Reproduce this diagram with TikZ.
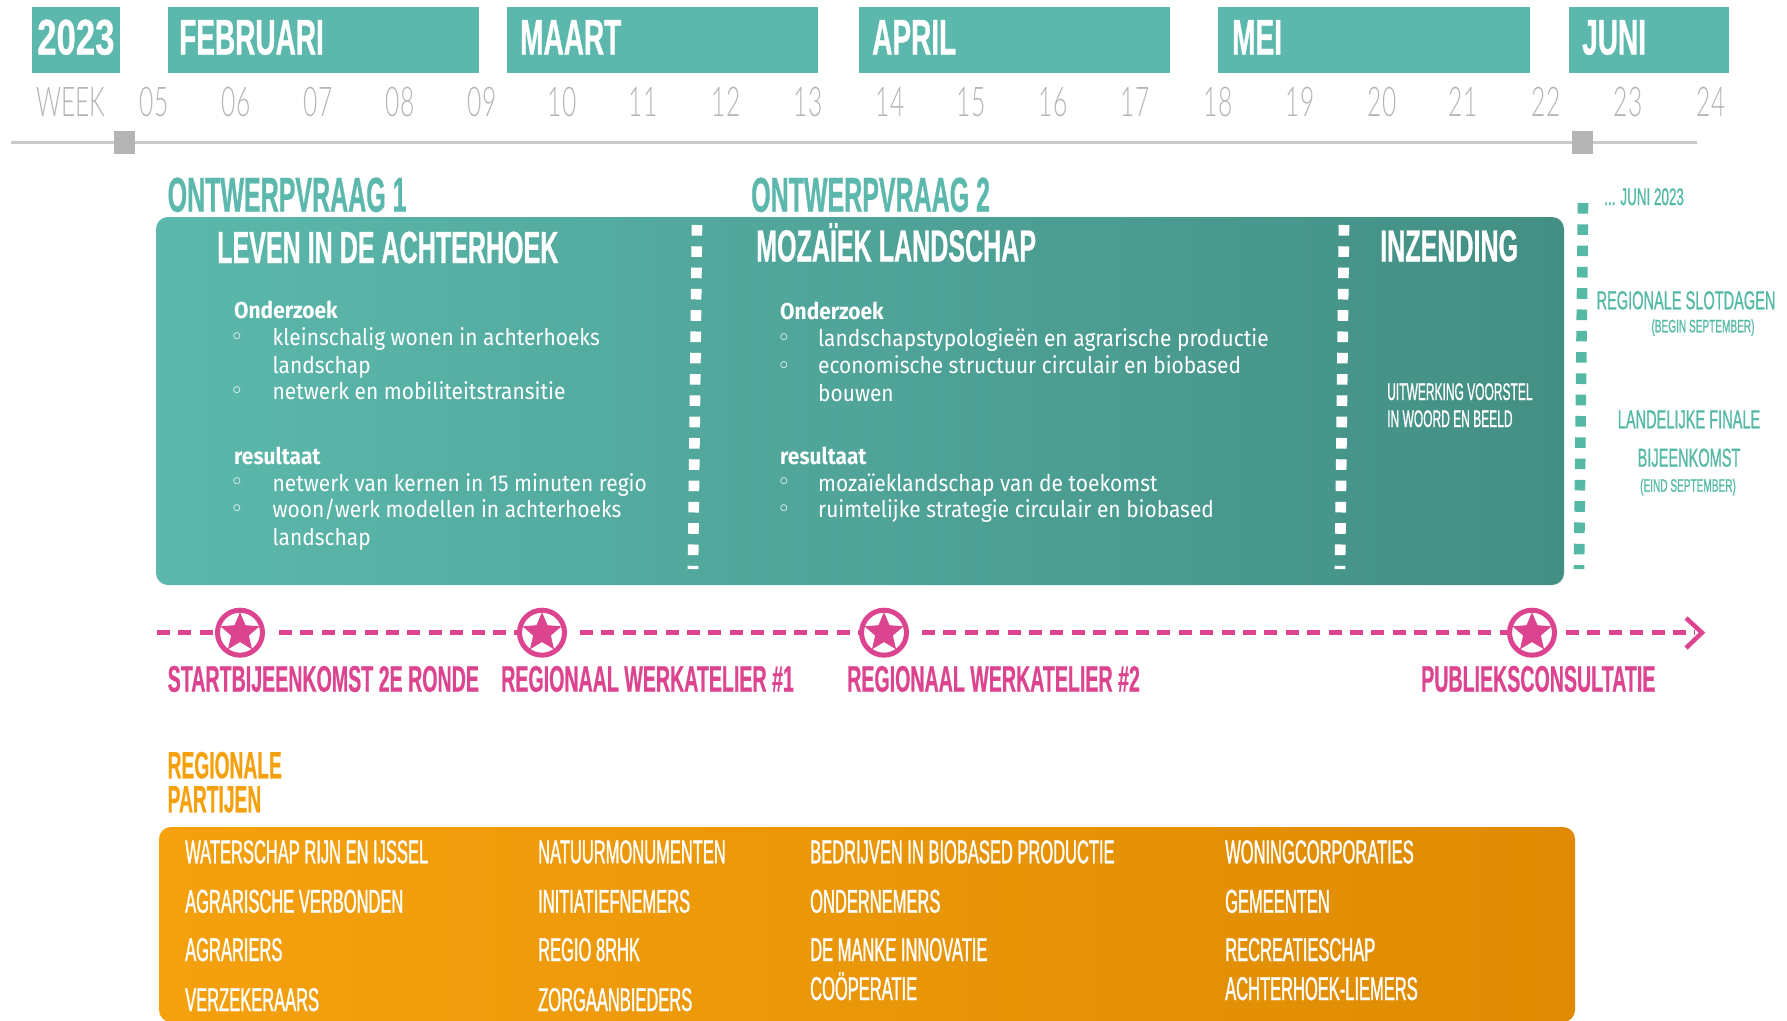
\documentclass[tikz,border=0pt]{standalone}
\usepackage{fontspec}
\usetikzlibrary{shapes.geometric}
\setmainfont[FakeStretch=0.91]{Fira Sans}
\newfontfamily\condfont{Liberation Sans}
\newfontfamily\thinfont[FakeStretch=0.6]{Lato Light}
\newcommand{\narrow}[3]{\condfont\fontsize{#2}{#2}\selectfont\addfontfeature{FakeStretch=#1,FakeBold=#3}}
\newcommand{\narrowbf}[3]{\condfont\bfseries\fontsize{#2}{#2}\selectfont\addfontfeature{FakeStretch=#1,FakeBold=#3}}
\definecolor{tealbar}{HTML}{5CB8AC}
\definecolor{tealdark}{HTML}{438F84}
\definecolor{tealtext}{HTML}{56B9A6}
\definecolor{pinkline}{HTML}{DD4490}
\definecolor{orangeleft}{HTML}{F5A10E}
\definecolor{orangeright}{HTML}{DE8B03}
\definecolor{weekgrey}{HTML}{B4B4B4}
\tikzset{
  txt/.style={inner sep=0pt,anchor=base west},
  month/.style={txt,font=\narrowbf{0.56}{50}{0.6},text=white},
  week/.style={inner sep=0pt,anchor=base,font=\thinfont\fontsize{41}{41}\selectfont,text=weekgrey},
  vraag/.style={txt,font=\narrowbf{0.51}{49}{0.6},text=tealbar},
  heading/.style={txt,font=\narrowbf{0.557}{45}{0.6},text=white},
  body/.style={txt,font=\fontsize{23}{23}\selectfont,text=white},
  bodyhead/.style={body,font=\bfseries\fontsize{23}{23}\selectfont},
  ring/.style={inner sep=0pt,font=\fontsize{17}{17}\selectfont,text=white},
  side/.style={inner sep=0pt,anchor=base,font=\narrow{0.56}{26}{0.8},text=tealtext},
  sidesmall/.style={side,font=\narrow{0.56}{18}{0.8}},
  event/.style={txt,font=\narrowbf{0.53}{37}{0.5},text=pinkline},
  partij/.style={txt,font=\narrow{0.5}{33}{1},text=white},
  note/.style={txt,font=\narrow{0.5}{24}{0.8},text=white},
  regio/.style={txt,font=\narrowbf{0.505}{38}{0.5},text=orangeleft},
  dots/.style={line width=10.6pt,dash pattern=on 10.6pt off 10.7pt},
  meetline/.style={color=pinkline,line width=4.5pt,dash pattern=on 13pt off 8.4pt},
  marker/.style={circle,draw=pinkline,fill=white,line width=5pt,minimum size=45pt,inner sep=0pt},
  starmark/.style={star,star points=5,star point ratio=2.2,fill=pinkline,minimum size=41pt,inner sep=0pt}
}
\begin{document}
\begin{tikzpicture}[x=1pt,y=-1pt]
\useasboundingbox (0,0) rectangle (1787,1020);

% months
\fill[tealbar] (32,7) rectangle (120,73);
\fill[tealbar] (167.5,7) rectangle (479,73);
\fill[tealbar] (507,7) rectangle (818,73);
\fill[tealbar] (859,7) rectangle (1170,73);
\fill[tealbar] (1218,7) rectangle (1530,73);
\fill[tealbar] (1569,7) rectangle (1729,73);
\node[month,font=\narrowbf{0.695}{50}{0.6}] (y23) at (37,54.5) {2023};
\node[month] (feb) at (179,54.5) {FEBRUARI};
\node[month] (mrt) at (520,54.5) {MAART};
\node[month] (apr) at (872,54.5) {APRIL};
\node[month] (mei) at (1232,54.5) {MEI};
\node[month] (jun) at (1582,54.5) {JUNI};

% weeks
\node[week] (wk) at (71,116.3) {WEEK};
\foreach \w/\xp in {05/154,06/236,07/318,08/400,09/482,10/562,11/643,12/726,13/808,14/890,
  15/971,16/1053,17/1135,18/1218,19/1300,20/1382,21/1463,22/1546,23/1628,24/1711}
  \node[week] (w\w) at (\xp,116.3) {\w};

% timeline
\coordinate (tl) at (11,142.5);
\coordinate (tr) at (1697,142.5);
\draw[color=weekgrey!70,line width=3pt] (tl) -- (tr);
\fill[weekgrey] (113.5,131) rectangle (134.5,154);
\fill[weekgrey] (1571.5,131) rectangle (1592.5,154);

% phases
\node[vraag] (ov1) at (167.5,211.7) {ONTWERPVRAAG 1};
\node[vraag] (ov2) at (751,211.7) {ONTWERPVRAAG 2};
\shade[left color=tealbar,right color=tealdark,rounded corners=12pt] (156,217) rectangle (1564,585);

\coordinate (d1a) at (697,225); \coordinate (d1b) at (693,569);
\coordinate (d2a) at (1344,225); \coordinate (d2b) at (1340,569);
\coordinate (d3a) at (1583,203); \coordinate (d3b) at (1579,569);
\draw[dots,white] (d1a) -- (d1b);
\draw[dots,white] (d2a) -- (d2b);
\draw[dots,color=tealtext] (d3a) -- (d3b);

\node[heading] (lev) at (217,263) {LEVEN IN DE ACHTERHOEK};
\node[heading] (moz) at (756,261.5) {MOZAÏEK LANDSCHAP};
\node[heading] (inz) at (1380,261.5) {INZENDING};

% first column
\node[bodyhead] (o1) at (234,318.4) {Onderzoek};
\node[ring] (o1a) at (237,337) {$\circ$};
\node[body] (o1t) at (272.5,345.2) {kleinschalig wonen in achterhoeks};
\node[body] (o1u) at (272.5,373) {landschap};
\node[ring] (o1b) at (237,391) {$\circ$};
\node[body] (o1v) at (272.5,399.2) {netwerk en mobiliteitstransitie};
\node[bodyhead] (r1) at (234,464.2) {resultaat};
\node[ring] (r1a) at (237,482) {$\circ$};
\node[body] (r1t) at (272.5,491) {netwerk van kernen in 15 minuten regio};
\node[ring] (r1b) at (237,509) {$\circ$};
\node[body] (r1u) at (272.5,517.9) {woon/werk modellen in achterhoeks};
\node[body] (r1v) at (272.5,545) {landschap};

% second column
\node[bodyhead] (o2) at (780,319.4) {Onderzoek};
\node[ring] (o2a) at (784,338) {$\circ$};
\node[body] (o2t) at (818,346.2) {landschapstypologieën en agrarische productie};
\node[ring] (o2b) at (784,366) {$\circ$};
\node[body] (o2u) at (818,373.7) {economische structuur circulair en biobased};
\node[body] (o2v) at (818,401.2) {bouwen};
\node[bodyhead] (r2) at (780,464.2) {resultaat};
\node[ring] (r2a) at (784,482) {$\circ$};
\node[body] (r2t) at (818,491) {mozaïeklandschap van de toekomst};
\node[ring] (r2b) at (784,509) {$\circ$};
\node[body] (r2u) at (818,517.7) {ruimtelijke strategie circulair en biobased};

\node[note] (uit) at (1387,400) {UITWERKING VOORSTEL};
\node[note] (woo) at (1387,427) {IN WOORD EN BEELD};

% right of the box
\node[side,anchor=base west,font=\narrow{0.56}{24}{0.8}] (jn) at (1604,205) {... JUNI 2023};
\node[side] (slot) at (1686,309.3) {REGIONALE SLOTDAGEN};
\node[sidesmall] (beg) at (1703,332.3) {(BEGIN SEPTEMBER)};
\node[side] (fin) at (1689,428.3) {LANDELIJKE FINALE};
\node[side] (bij) at (1689,466.7) {BIJEENKOMST};
\node[sidesmall] (ein) at (1688,491.7) {(EIND SEPTEMBER)};

% meetings
\coordinate (pl) at (157,632.7);
\coordinate (ga) at (279,632.7);
\coordinate (gb) at (580,632.7);
\coordinate (gc) at (922,632.7);
\coordinate (gd) at (1566,632.7);
\coordinate (pe) at (1695,632.7);
\coordinate (pa) at (1686,618);
\coordinate (pb) at (1702,632.7);
\coordinate (pc) at (1686,648);
\node[marker] (ma) at (240,632.7) {};
\node[marker] (mb) at (542,632.7) {};
\node[marker] (mc) at (884,632.7) {};
\node[marker] (md) at (1532,632.7) {};
\draw[meetline] (pl) -- (ma);
\draw[meetline] (ga) -- (mb);
\draw[meetline] (gb) -- (mc);
\draw[meetline] (gc) -- (md);
\draw[meetline] (gd) -- (pe);
\draw[color=pinkline,line width=4.5pt] (pa) -- (pb) -- (pc);
\node[starmark] (sa) at (240,632.7) {};
\node[starmark] (sb) at (542,632.7) {};
\node[starmark] (sc) at (884,632.7) {};
\node[starmark] (sd) at (1532,632.7) {};
\node[event] (ev1) at (167.5,691.7) {STARTBIJEENKOMST 2E RONDE};
\node[event] (ev2) at (501,691.7) {REGIONAAL WERKATELIER \#1};
\node[event] (ev3) at (847,691.7) {REGIONAAL WERKATELIER \#2};
\node[event] (ev4) at (1421,691.7) {PUBLIEKSCONSULTATIE};

% parties
\node[regio] (rp1) at (167.5,778.3) {REGIONALE};
\node[regio] (rp2) at (167.5,812.3) {PARTIJEN};
\shade[left color=orangeleft,right color=orangeright,rounded corners=12pt] (159,827) rectangle (1575,1022);

\node[partij] (p1) at (185,863.3) {WATERSCHAP RIJN EN IJSSEL};
\node[partij] (p2) at (185,912.7) {AGRARISCHE VERBONDEN};
\node[partij] (p3) at (185,961) {AGRARIERS};
\node[partij] (p4) at (185,1011) {VERZEKERAARS};
\node[partij] (p5) at (538,863.3) {NATUURMONUMENTEN};
\node[partij] (p6) at (538,912.7) {INITIATIEFNEMERS};
\node[partij] (p7) at (538,961) {REGIO 8RHK};
\node[partij] (p8) at (538,1011) {ZORGAANBIEDERS};
\node[partij] (p9) at (810,863.3) {BEDRIJVEN IN BIOBASED PRODUCTIE};
\node[partij] (p10) at (810,912.7) {ONDERNEMERS};
\node[partij] (p11) at (810,961) {DE MANKE INNOVATIE};
\node[partij] (p12) at (810,1000) {COÖPERATIE};
\node[partij] (p13) at (1225,863.3) {WONINGCORPORATIES};
\node[partij] (p14) at (1225,912.7) {GEMEENTEN};
\node[partij] (p15) at (1225,961) {RECREATIESCHAP};
\node[partij] (p16) at (1225,1000) {ACHTERHOEK-LIEMERS};

\end{tikzpicture}
\end{document}
